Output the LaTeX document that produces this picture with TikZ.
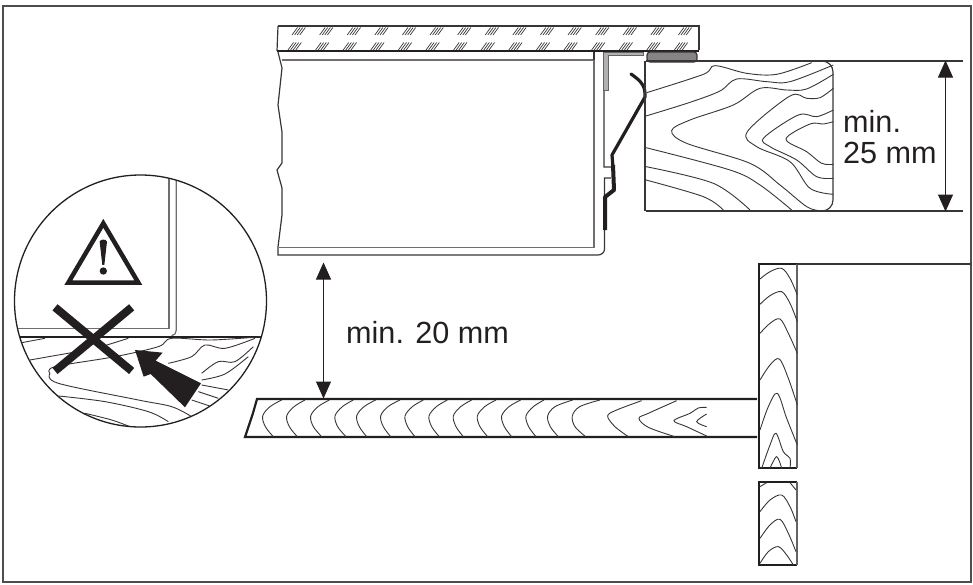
\documentclass[tikz,border=0pt]{standalone}
\usepackage{fontspec}
\setmainfont{Liberation Sans}
\usetikzlibrary{arrows.meta}
\definecolor{ink}{HTML}{231F20}
\tikzset{
    frame-line/.style = {draw=ink!80, line width=2pt},
    wood-edge/.style = {draw=ink, line width=2.2pt, line join=miter},
    wood-side/.style = {draw=ink!70, line width=1.4pt},
    grain-line/.style = {draw=ink!90, line width=0.9pt},
    hatch-line/.style = {draw=ink!90, line width=0.7pt},
    thin-line/.style = {draw=ink!90, line width=1.2pt},
    bold-line/.style = {draw=ink, line width=1.8pt},
    gray-line/.style = {draw=ink!65, line width=1.2pt},
    clip-line/.style = {draw=ink, line width=3.2pt, line join=round},
    dim-line/.style = {draw=ink, line width=1pt, {Triangle[length=17pt,width=15pt]}-{Triangle[length=17pt,width=15pt]}, shorten >=-0.5pt, shorten <=-0.5pt},
    dim-text/.style = {text=ink, font=\fontsize{30.6}{32}\selectfont, inner sep=0pt, anchor=base west},
    crop/.style 2 args = {shift={(#1,#2)}, x=0.3333pt, y=-0.3333pt},
}
\newcommand{\grainpath}[1]{\draw[grain-line] plot[smooth, tension=0.55] coordinates {#1};}

\begin{document}
\begin{tikzpicture}[x=1pt, y=-1pt]
\useasboundingbox (0,0) rectangle (973,584);
\draw[frame-line] (3,6) rectangle (971,582);

% worktop
\draw[thin-line] (278,26) -- (699,26) -- (699,50);
\draw[thin-line] (278,26) -- (277,51);
\foreach \n in {0,...,14} {
    \foreach \d in {0,2.6,5.2,7.8} {
        \draw[hatch-line] ({292+27.6*\n+\d},35) -- ++(5.5,-7.5);
        \draw[hatch-line] ({288+27.6*\n+\d},50) -- ++(5.5,-7.5);
    }
}
\draw[bold-line] (277,51) -- (699,51);

% cabinet
\draw[thin-line] (278,52) -- (282,68) -- (278,105) -- (282,132) -- (282,163) -- (277,170) -- (282,188) -- (282,215) -- (278,247) -- (278,255) -- (598,255)
    to[out=0, in=-90] (604.5,249) -- (604.5,178) -- (611,178) (611,167) -- (604,167) -- (604,90);
\draw[gray-line] (282,60) -- (594,60) -- (594,247.5) -- (279,247.5);
\draw[thin-line] (594,52) -- (594,60);
\fill[ink!35, draw=ink!70, line width=0.6pt] (603,52) -- (643,52) -- (643,55) -- (608,55) -- (608,90) -- (603,90) -- cycle;
\draw[thin-line, fill=ink!55, rounded corners=3pt] (647,52) -- (697,52) -- (697,62) -- (647,62) -- cycle;
\draw[clip-line, line cap=round] (631,74) to[out=-35, in=90] (645,94) -- (645,97) -- (612,155) -- (613,167);
\draw[clip-line, line width=4pt] (613,165) -- (614,190) -- (605,197) -- (605,230);

% batten
\draw[thin-line] (646,61) -- (963,61);
\draw[thin-line] (646,211) -- (963,211);
\draw[thin-line] (645,61) -- (645,211);
\draw[thin-line] (822,61) to[out=0, in=90] (833,72) -- (833,200) to[out=-90, in=0] (822,211);
\begin{scope}[crop={590}{15}]
\grainpath{(170,233)(340,178)(375,152)(470,175)(560,178)(665,143)}
\grainpath{(168,303)(300,262)(390,228)(440,192)(530,200)(600,200)(730,150)}
\grainpath{(730,178)(650,222)(590,225)(510,220)(430,270)(300,315)(245,347)(290,385)(480,445)(570,510)(650,575)(690,587)}
\grainpath{(730,220)(690,248)(650,250)(600,243)(472,350)(500,395)(600,440)(660,520)(730,538)}
\grainpath{(730,285)(680,305)(625,300)(522,368)(540,395)(620,435)(680,485)(730,490)}
\grainpath{(730,320)(700,327)(660,327)(588,372)(650,410)(695,445)(730,448)}
\grainpath{(168,398)(420,465)(510,510)(605,585)}
\grainpath{(168,455)(370,505)(480,585)}
\grainpath{(168,495)(340,545)(400,585)}
\end{scope}

% dimensions
\coordinate (batten-top) at (945.5,61);
\coordinate (batten-bottom) at (945.5,211);
\draw[dim-line] (batten-top) -- (batten-bottom);
\coordinate (cabinet-bottom) at (323.5,263);
\coordinate (shelf-top) at (323.5,398);
\draw[dim-line] (cabinet-bottom) -- (shelf-top);
\node[dim-text] (label-batten-a) at (843,132) {min.};
\node[dim-text] (label-batten-b) at (843,163) {25 mm};
\node[dim-text] (label-gap) at (346,343) {min. 20 mm};

% shelf
\draw[wood-edge] (757,399) -- (257,399) -- (253,413) -- (245,437) -- (757,437);
\begin{scope}[crop={240}{380}]
\foreach \t/\l/\b in {125/68/100,195/140/172,268/212/245,340/285/318,407/350/380,480/422/452,550/495/525,622/567/598,695/640/670,768/712/743,842/785/815,912/858/888,998/923/955,1080/997/1037} {
    \grainpath{(\t,60)({\l+22},80)(\l,108)({\l+8},140)(\b,170)}
}
\grainpath{(1205,62)(1130,90)(1103,108)(1125,140)(1165,170)}
\grainpath{(1310,62)(1225,100)(1197,115)(1225,142)(1305,170)}
\grainpath{(1400,82)(1375,84)(1350,100)(1302,122)(1340,140)(1400,168)}
\grainpath{(1400,102)(1370,125)(1400,140)}
\end{scope}

% side panel
\draw[wood-edge] (797,264) -- (759,264) -- (759,468) -- (797,468);
\draw[wood-side] (797,264) -- (797,468);
\draw[wood-edge] (797,482) -- (759,482) -- (759,565) -- (797,565);
\draw[wood-side] (797,482) -- (797,565);
\draw[thin-line] (797,264) -- (971,264);
\begin{scope}[crop={740}{255}]
\grainpath{(60,72)(90,50)(125,40)(150,70)(172,120)}
\grainpath{(60,148)(90,122)(125,110)(150,145)(172,200)}
\grainpath{(60,235)(90,205)(120,192)(145,235)(172,295)}
\grainpath{(60,375)(90,330)(118,312)(145,370)(172,450)}
\grainpath{(60,525)(85,455)(112,415)(140,490)(172,570)}
\grainpath{(65,640)(90,570)(108,535)(130,590)(150,610)(150,640)}
\grainpath{(90,640)(110,605)(125,640)}
\draw[grain-line] (60,695) -- (80,683) (150,683) -- (168,705);
\grainpath{(60,770)(90,735)(125,720)(150,755)(168,800)}
\grainpath{(60,850)(90,810)(120,793)(145,835)(168,890)}
\grainpath{(60,925)(85,890)(115,875)(140,900)(160,930)}
\end{scope}

% detail circle
\begin{scope}
\clip (140.5,301) circle (126);
\begin{scope}[crop={5}{170}]
\draw[gray-line] (20,475) -- (492,475) -- (492,10);
\draw[gray-line] (514,10) -- (514,480) to[out=-90, in=0] (500,497);
\draw[bold-line] (20,500) -- (790,500);
\draw[grain-line] (40,520) -- (120,505);
\grainpath{(135,610)(150,590)(330,560)(460,530)(500,505)(620,510)(770,500)}
\draw[grain-line] (75,570) -- (200,548);
\draw[grain-line] (290,530) -- (370,505);
\grainpath{(135,610)(160,640)(400,690)(500,710)(560,740)}
\grainpath{(160,678)(300,695)(430,725)(490,755)}
\grainpath{(240,730)(320,750)(380,772)}
\grainpath{(490,580)(560,560)(600,525)(660,535)(750,505)}
\grainpath{(590,610)(640,575)(690,575)(745,530)}
\grainpath{(590,630)(660,612)(730,560)}
\grainpath{(590,645)(670,660)}
\grainpath{(580,665)(640,685)}
\grainpath{(560,690)(620,710)}
\end{scope}
\end{scope}
\draw[ink, line width=1.3pt] (140.5,301) circle (126);
\begin{scope}[crop={5}{170}]
\draw[ink, line width=4.5pt, miter limit=10] (295,160) -- (190,338) -- (400,338) -- cycle;
\fill[ink] (284,215) to[out=80, in=100] (306,215) -- (298,285) -- (292,285) -- cycle;
\fill[ink] (295,303) circle (11);
\draw[ink, line width=8pt] (150,412) -- (380,603);
\draw[ink, line width=8pt] (380,412) -- (150,603);
\fill[ink] (390,540) -- (473,548) -- (452,572) -- (588,640) -- (540,712) -- (437,612) -- (416,620) -- cycle;
\end{scope}
\end{tikzpicture}
\end{document}
